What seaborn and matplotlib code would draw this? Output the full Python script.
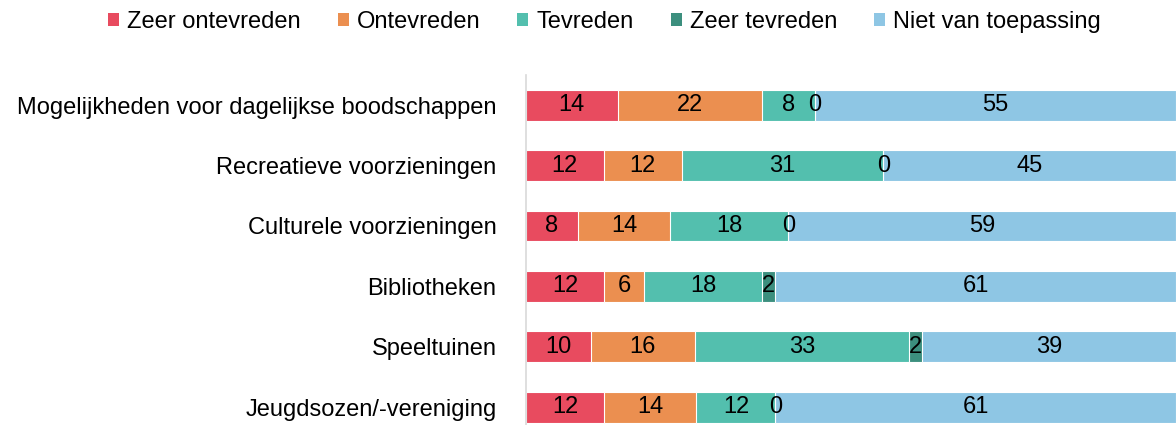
import numpy as np
import pandas as pd
import seaborn as sns
import matplotlib
matplotlib.use("Agg")
import matplotlib.pyplot as plt
from matplotlib.patches import Patch

categories = [
    "Mogelijkheden voor dagelijkse boodschappen",
    "Recreatieve voorzieningen",
    "Culturele voorzieningen",
    "Bibliotheken",
    "Speeltuinen",
    "Jeugdsozen/-vereniging",
]
series_names = ["Zeer ontevreden", "Ontevreden", "Tevreden", "Zeer tevreden", "Niet van toepassing"]
zeer_ontevreden = [14, 12, 8, 12, 10, 12]
ontevreden = [22, 12, 14, 6, 16, 14]
tevreden = [8, 31, 18, 18, 33, 12]
zeer_tevreden = [0, 0, 0, 2, 2, 0]
niet_van_toepassing = [55, 45, 59, 61, 39, 61]
colors = ["#E84B5F", "#EB8F50", "#53BFAE", "#3C8F7E", "#8EC6E4"]

sns.set_style("white")
plt.rcParams["font.family"] = ["Liberation Sans", "DejaVu Sans"]

values = np.array([zeer_ontevreden, ontevreden, tevreden, zeer_tevreden, niet_van_toepassing], dtype=float)
# 100% stacked: each row scaled to its total (labels keep the rounded values)
shares = values / values.sum(axis=0) * 100
cum = np.cumsum(shares, axis=0)

fig = plt.figure(figsize=(11.76, 4.25), dpi=100)
ax = fig.add_axes([0.447, 0.0, 0.553, 0.8235])

for i in reversed(range(len(series_names))):
    df = pd.DataFrame({"cat": categories, "val": cum[i]})
    sns.barplot(data=df, x="val", y="cat", orient="h", color=colors[i],
                saturation=1, width=0.51, edgecolor="white", linewidth=0.8, ax=ax)

for i in range(len(series_names)):
    for j in range(len(categories)):
        x = cum[i, j] - shares[i, j] / 2
        ax.text(x, j, f"{int(values[i, j])}", ha="center", va="center", fontsize=17, color="black")

ax.set_xlim(0, 100)
ax.set_ylim(5.295, -0.5)
ax.set_xlabel("")
ax.set_ylabel("")
ax.set_xticks([])
ax.tick_params(axis="y", length=0, pad=21, labelsize=17, labelcolor="black")
for s in ["top", "right", "bottom"]:
    ax.spines[s].set_visible(False)
ax.spines["left"].set_color("#D9D9D9")
ax.spines["left"].set_linewidth(1.2)

handles = [Patch(facecolor=c, edgecolor="none") for c in colors]
fig.legend(handles, series_names, loc="center", bbox_to_anchor=(0.514, 0.948), ncol=5,
           frameon=False, fontsize=17, handlelength=0.47, handleheight=0.47,
           handletextpad=0.34, columnspacing=1.57, labelcolor="black")

fig.savefig("out.png", dpi=100)
